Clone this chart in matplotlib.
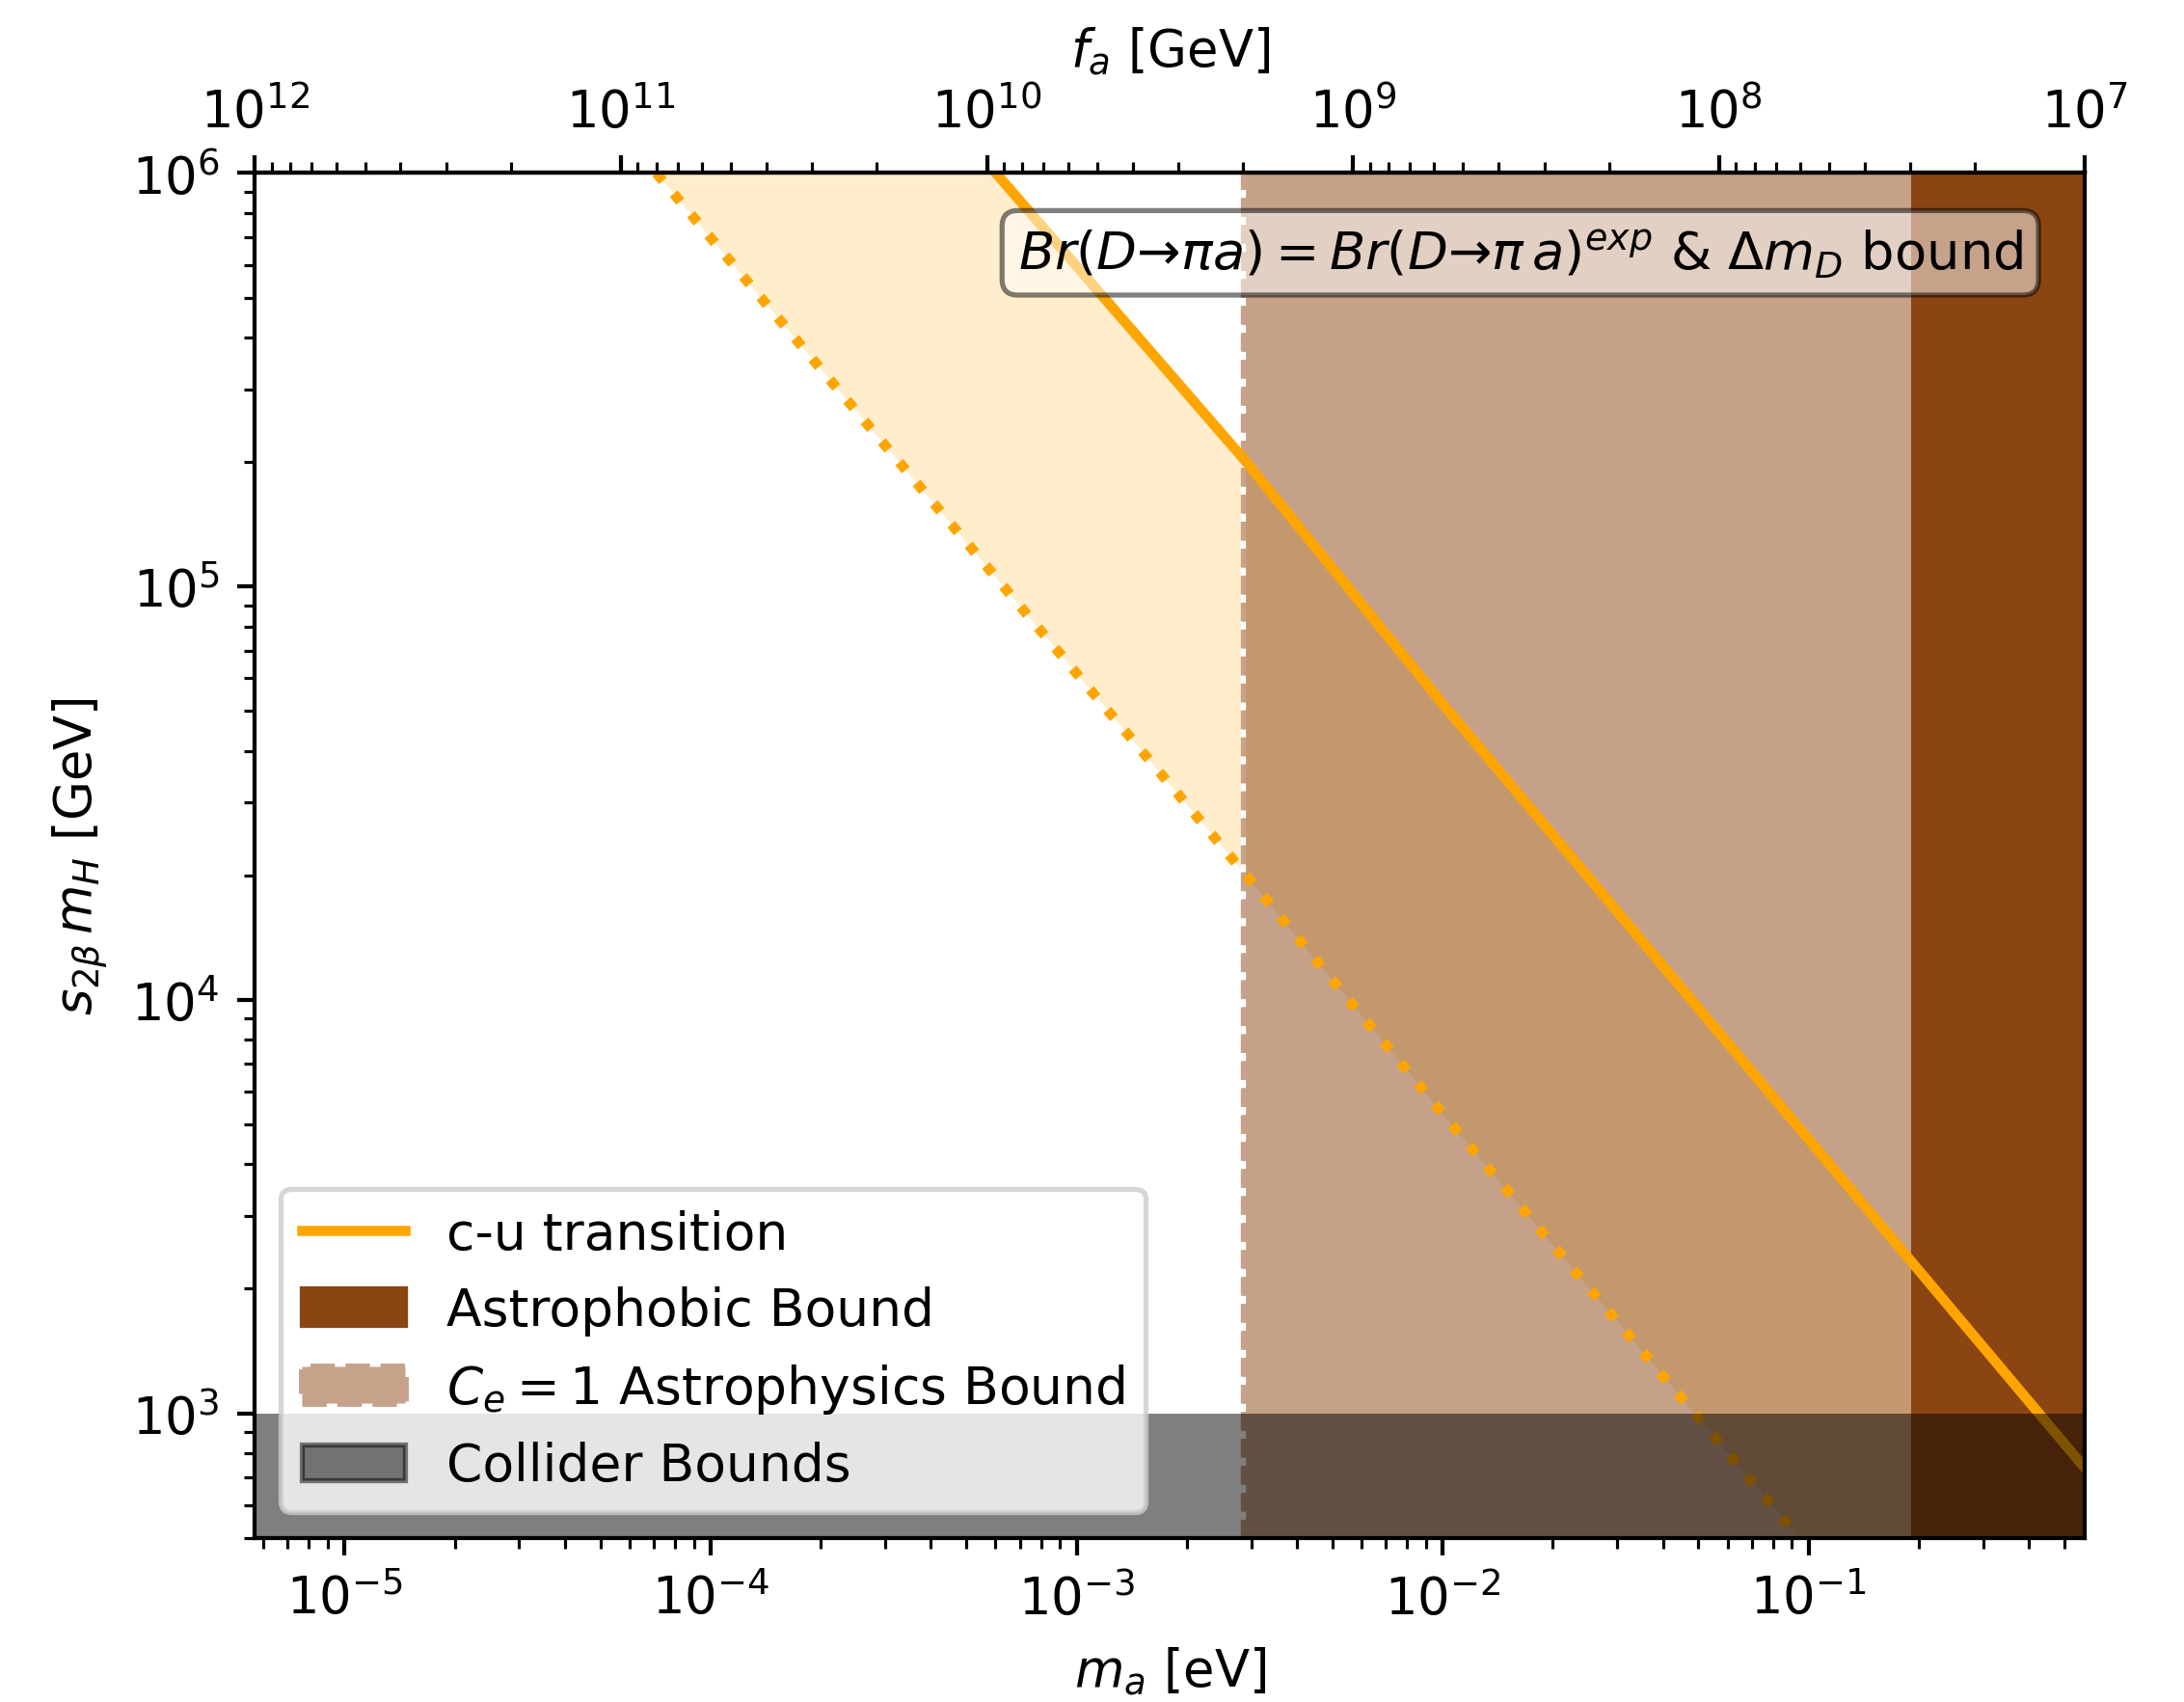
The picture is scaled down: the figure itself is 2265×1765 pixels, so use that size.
import numpy as np
import matplotlib
matplotlib.use("Agg")
import matplotlib.pyplot as plt
from matplotlib.lines import Line2D
from matplotlib.patches import Patch

# axis ranges (m_a in eV, s_2b m_H in GeV)
ma_min, ma_max = 5.69e-6, 0.569
y_min, y_max = 500, 1e6

# c-u transition line (solid) and its lower edge (dotted)
ma_cu = [6.02e-4, 2.84e-3, 1.0e-2, 0.569]
y_cu = [1.0e6, 2.05e5, 5.2e4, 736]
ma_cu_low = [7.11e-5, 2.84e-3, 1.0e-2, 0.094]
y_cu_low = [1.0e6, 2.05e4, 5.3e3, 500]

# exclusion bounds
ma_astro_ce1 = 2.84e-3   # C_e = 1 astrophysics bound (m_a above excluded)
ma_astrophobic = 0.19    # astrophobic bound
y_collider = 1000        # collider bounds (below excluded)

tan_opaque = "#c5a289"   # saddlebrown at alpha 0.5 over white


def ma_to_fa(m):
    return 5.69e6 / np.asarray(m, dtype=float)


def fa_to_ma(f):
    return 5.69e6 / np.asarray(f, dtype=float)


fig = plt.figure(figsize=(2265 / 380, 1766 / 380), dpi=380)
ax = fig.add_axes([0.1167, 0.0965, 0.8380, 0.8013])

ax.set_xscale("log")
ax.set_yscale("log")

# band between the two c-u curves, clipped to the plot window
band_x = ma_cu_low + [ma_max] + ma_cu[::-1]
band_y = y_cu_low + [y_min] + y_cu[::-1]
ax.fill(band_x, band_y, color="orange", alpha=0.2, lw=0)

ax.plot(ma_cu, y_cu, color="orange", lw=2)
ax.plot(ma_cu_low, y_cu_low, color="orange", lw=2, ls=":")

ax.axvspan(ma_astro_ce1, ma_max, color="saddlebrown", alpha=0.5, lw=0)
ax.axvline(ma_astro_ce1, color=tan_opaque, gapcolor="white", ls="--", lw=1.0,
           zorder=1.5)
ax.axvspan(ma_astrophobic, ma_max, color="saddlebrown", lw=0)
ax.axhspan(y_min, y_collider, color="black", alpha=0.5, lw=0, zorder=3)

ax.set_xlim(ma_min, ma_max)
ax.set_ylim(y_min, y_max)
ax.set_xlabel(r"$m_a$ [eV]")
ax.set_ylabel(r"$s_{2\beta}\, m_H$ [GeV]")

secax = ax.secondary_xaxis("top", functions=(ma_to_fa, fa_to_ma))
secax.set_xlabel(r"$f_a$ [GeV]")

ax.text(0.966, 0.961,
        r"$Br(D→\pi a) = Br(D→\pi\, a)^{exp}$ & $\Delta m_D$ bound",
        transform=ax.transAxes, ha="right", va="top", fontsize=10.3, zorder=5,
        bbox=dict(boxstyle="round", facecolor="white", alpha=0.5))

handles = [
    Line2D([], [], color="orange", lw=2),
    Patch(color="saddlebrown"),
    Patch(facecolor=tan_opaque, edgecolor=tan_opaque, ls="--", lw=1.3),
    Patch(color="black", alpha=0.5),
]
labels = ["c-u transition", "Astrophobic Bound",
          r"$C_e = 1$ Astrophysics Bound", "Collider Bounds"]
leg = ax.legend(handles, labels, loc="lower left", fontsize=10.15)
leg.set_zorder(6)

fig.savefig("out.png", dpi=380)
